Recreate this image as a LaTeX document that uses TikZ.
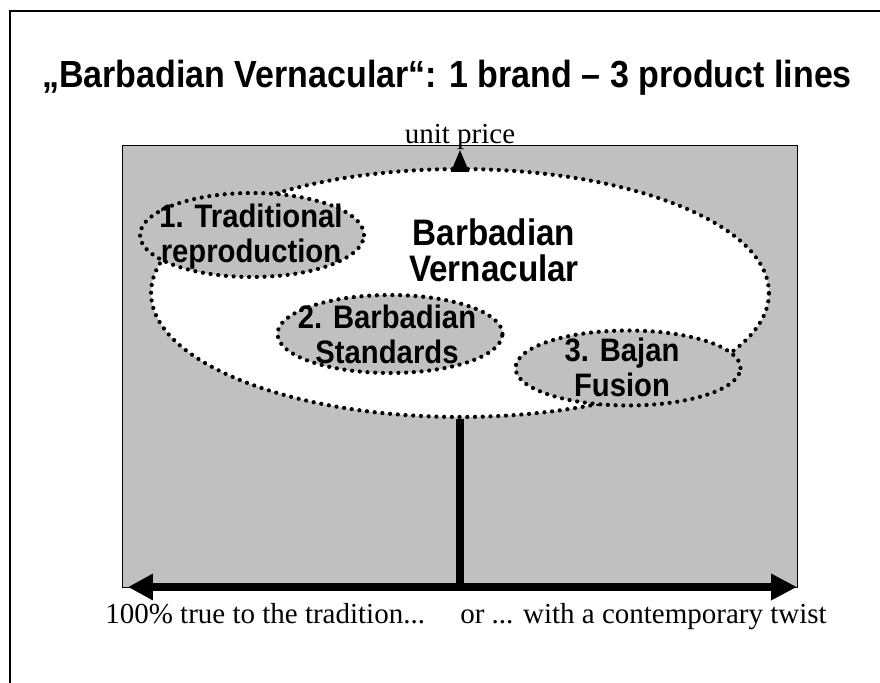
\documentclass[tikz,border=0pt]{standalone}
\usepackage{fontspec}
\setmainfont{Liberation Serif}
\setsansfont{Liberation Sans}
\newfontfamily\condsans[FakeStretch=0.9]{Liberation Sans}
\usetikzlibrary{shapes.geometric, arrows.meta}
\definecolor{bgray}{RGB}{192,192,192}
\tikzset{ dots/.style = {line width=2.4pt, line cap=round, dash pattern=on 0pt off 4.4pt},
  brand/.style = {ellipse, draw, dots, fill=white, inner sep=0pt, minimum width=12.36cm, minimum height=4.96cm},
  prodline/.style = {ellipse, draw, dots, fill=bgray, inner sep=0pt, minimum width=4.5cm},
  brandtxt/.style = {inner sep=0pt, align=center, font=\condsans\bfseries\fontsize{21pt}{20.5pt}\selectfont},
  prodtxt/.style = {inner sep=0pt, align=center, font=\condsans\bfseries\fontsize{18.5pt}{20pt}\selectfont},
  axtxt/.style = {inner sep=0pt, font=\fontsize{16.5pt}{19pt}\selectfont},
  axis/.style = {line width=4.55pt} }

\begin{document}
\begin{tikzpicture}[x=0.02cm, y=-0.02cm]
  \useasboundingbox (0,0) rectangle (880,683);
  \fill[bgray, draw=black, line width=0.5pt] (122,145) rectangle (797,587);

  \node[brand] (vern) at (460,293) {};
  \coordinate (axl) at (128,587);
  \coordinate (axr) at (797,587);
  \coordinate (axm) at (460,587);
  \coordinate (ptip) at (460,150);
  \draw[axis, {Triangle[length=0.5cm, width=0.5cm]}-{Triangle[length=0.52cm, width=0.5cm]}] (axl) -- (axr);
  \draw[axis] (axm) -- (vern.south);
  \draw[line width=1pt, -{Triangle[length=0.44cm, width=0.36cm]}] (vern.north) -- (ptip);

  \node[prodline, minimum width=4.48cm, minimum height=1.68cm] (trad) at (252,235) {};
  \node[prodline, minimum height=1.56cm] (std) at (390,334) {};
  \node[prodline, minimum height=1.5cm] (fus) at (628,368) {};
  \node[prodtxt] (tradtxt) at (251,237) {1. Traditional\\reproduction};
  \node[prodtxt] (stdtxt) at (387,334) {2. Barbadian\\Standards};
  \node[prodtxt] (fustxt) at (622,367) {3. Bajan\\Fusion};
  \node[brandtxt] (verntxt) at (494,250) {Barbadian\\Vernacular};

  \node[axtxt, anchor=base] (price) at (460,143) {unit price};
  \node[axtxt, anchor=base west] (trad-end) at (105,623) {100\% true to the tradition...};
  \node[axtxt, anchor=base east] (twist-end) at (827,623) {or ... with a contemporary twist};

  \node[inner sep=0pt, anchor=base, font=\condsans\bfseries\fontsize{21.5pt}{24pt}\selectfont] (title) at (447,87) {„Barbadian Vernacular“: 1 brand – 3 product lines};

  % slide frame
  \draw[line width=1.7pt] (10,683) -- (10,11) -- (880,11);
\end{tikzpicture}
\end{document}
